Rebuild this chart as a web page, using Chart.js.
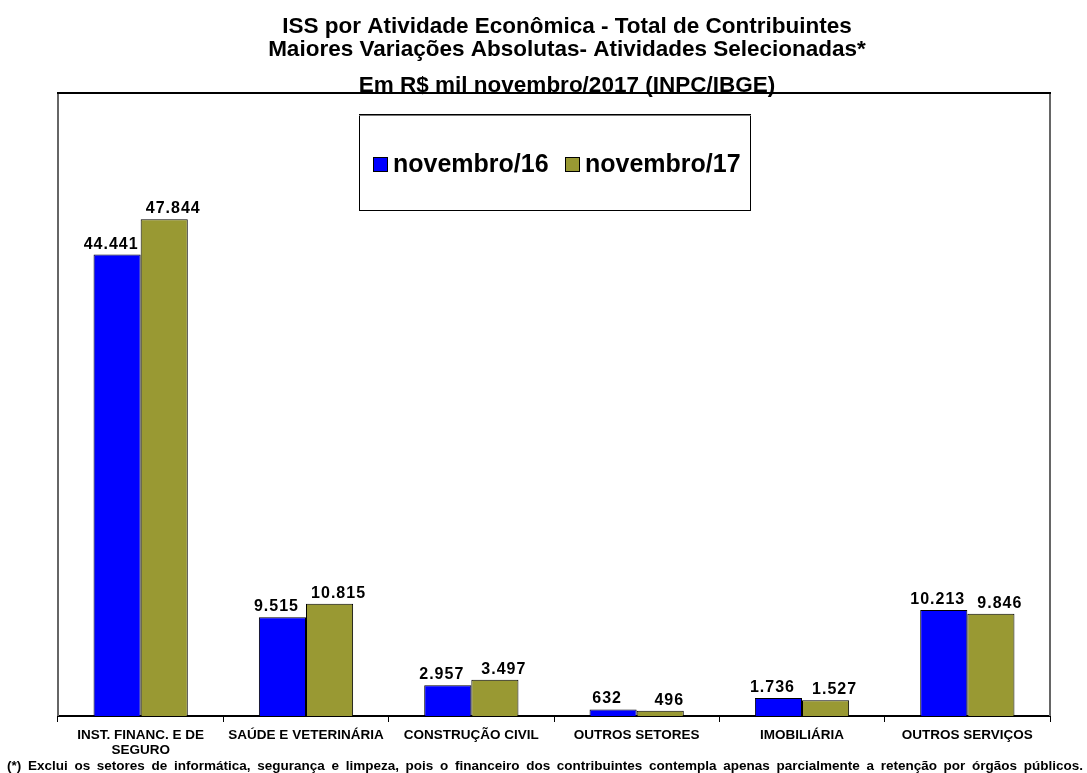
<!DOCTYPE html>
<html>
<head>
<meta charset="utf-8">
<script src="https://cdn.jsdelivr.net/npm/chart.js@4/dist/chart.umd.min.js"></script>
<style>
  body { margin: 0; background: #fff; }
  #wrap { width: 1087px; height: 773px; }
</style>
</head>
<body>
<div id="wrap"><canvas id="issChart" width="1087" height="773"></canvas></div>
<script>
const categories = [
    ['INST. FINANC. E DE', 'SEGURO'],
    'SAÚDE E VETERINÁRIA',
    'CONSTRUÇÃO CIVIL',
    'OUTROS SETORES',
    'IMOBILIÁRIA',
    'OUTROS SERVIÇOS'
];
const seriesNames = ['novembro/16', 'novembro/17'];
const nov16 = [44441, 9515, 2957, 632, 1736, 10213];
const nov17 = [47844, 10815, 3497, 496, 1527, 9846];
const seriesColors = ['#0000FF', '#999933'];

const titleLines = [
    'ISS por Atividade Econômica - Total de Contribuintes',
    'Maiores Variações Absolutas- Atividades Selecionadas*',
    'Em R$ mil novembro/2017 (INPC/IBGE)'
];
const footnote = '(*) Exclui os setores de informática, segurança e limpeza, pois o financeiro dos contribuintes contempla apenas parcialmente a retenção por órgãos públicos.';

const FONT = '"Liberation Sans", Arial, sans-serif';

function formatThousands(v) {
    return String(v).replace(/\B(?=(\d{3})+(?!\d))/g, '.');
}

// draws a line of words spread out to fill the given width
function drawJustified(ctx, text, left, right, y) {
    const words = text.split(' ');
    let total = 0;
    words.forEach(w => { total += ctx.measureText(w).width; });
    const gap = (right - left - total) / (words.length - 1);
    let x = left;
    words.forEach(w => {
        ctx.fillText(w, x, y);
        x += ctx.measureText(w).width + gap;
    });
}

const decorations = {
    id: 'decorations',
    beforeDraw(chart) {
        const ctx = chart.ctx;
        ctx.save();
        ctx.fillStyle = '#fff';
        ctx.fillRect(0, 0, chart.width, chart.height);
        ctx.restore();
    },
    afterDatasetsDraw(chart) {
        // value labels, nudged apart so neighbours don't collide
        const ctx = chart.ctx;
        ctx.save();
        ctx.font = 'bold 16px ' + FONT;
        ctx.letterSpacing = '1px';
        ctx.fillStyle = '#000';
        ctx.textAlign = 'center';
        ctx.textBaseline = 'alphabetic';
        chart.data.datasets.forEach((ds, di) => {
            const meta = chart.getDatasetMeta(di);
            const shift = di === 0 ? -6 : 9;
            meta.data.forEach((bar, i) => {
                ctx.fillText(formatThousands(ds.data[i]), bar.x + shift, bar.y - 6);
            });
        });
        ctx.restore();
    },
    afterDraw(chart) {
        const ctx = chart.ctx;
        const a = chart.chartArea;
        ctx.save();

        // plot frame
        ctx.strokeStyle = '#666';
        ctx.lineWidth = 2;
        ctx.beginPath();
        ctx.moveTo(a.left, a.bottom);
        ctx.lineTo(a.left, a.top);
        ctx.moveTo(a.right, a.top);
        ctx.lineTo(a.right, a.bottom);
        ctx.stroke();
        ctx.strokeStyle = '#000';
        ctx.beginPath();
        ctx.moveTo(a.left - 1, a.top);
        ctx.lineTo(a.right + 1, a.top);
        ctx.stroke();

        // title
        ctx.fillStyle = '#000';
        ctx.font = 'bold 22.5px ' + FONT;
        ctx.textAlign = 'center';
        ctx.textBaseline = 'alphabetic';
        const titleY = [33, 56, 92];
        titleLines.forEach((line, i) => ctx.fillText(line, 567, titleY[i]));

        // legend box
        ctx.fillStyle = '#fff';
        ctx.fillRect(359, 114, 391, 96);
        ctx.strokeStyle = '#000';
        ctx.lineWidth = 1;
        ctx.strokeRect(359.5, 114.5, 391, 96);
        ctx.strokeStyle = '#777';
        ctx.beginPath();
        ctx.moveTo(359, 115.5);
        ctx.lineTo(751, 115.5);
        ctx.stroke();

        ctx.font = 'bold 25px ' + FONT;
        ctx.textAlign = 'left';
        ctx.textBaseline = 'middle';
        const legendX = [373, 565];
        chart.data.datasets.forEach((ds, di) => {
            const x = legendX[di];
            ctx.fillStyle = ds.backgroundColor;
            ctx.fillRect(x, 157, 14, 14);
            ctx.strokeStyle = '#000';
            ctx.strokeRect(x + 0.5, 157.5, 14, 14);
            ctx.fillStyle = '#000';
            ctx.fillText(ds.label, x + 20, 165);
        });

        // footnote
        ctx.font = 'bold 13.5px ' + FONT;
        ctx.textBaseline = 'alphabetic';
        drawJustified(ctx, footnote, 7, 1083, 770);

        ctx.restore();
    }
};

new Chart(document.getElementById('issChart'), {
    type: 'bar',
    data: {
        labels: categories,
        datasets: [
            {
                label: seriesNames[0],
                data: nov16,
                backgroundColor: seriesColors[0],
                borderColor: '#000',
                borderWidth: 1,
                categoryPercentage: 0.57,
                barPercentage: 1
            },
            {
                label: seriesNames[1],
                data: nov17,
                backgroundColor: seriesColors[1],
                borderColor: '#000',
                borderWidth: 1,
                categoryPercentage: 0.57,
                barPercentage: 1
            }
        ]
    },
    options: {
        responsive: false,
        animation: false,
        devicePixelRatio: 1,
        layout: { padding: { left: 58, right: 37, top: 93, bottom: 0 } },
        plugins: {
            legend: { display: false },
            title: { display: false },
            tooltip: { enabled: false }
        },
        scales: {
            y: {
                display: false,
                min: 0,
                max: 60000
            },
            x: {
                border: { color: '#000', width: 2 },
                grid: {
                    display: true,
                    offset: true,
                    drawOnChartArea: false,
                    drawTicks: true,
                    tickLength: 6,
                    color: '#000',
                    lineWidth: 1
                },
                ticks: {
                    color: '#000',
                    padding: 6,
                    maxRotation: 0,
                    autoSkip: false,
                    font: { family: FONT, size: 13.5, weight: 'bold', lineHeight: 1.1 }
                },
                afterFit(scale) {
                    scale.height = 57;
                }
            }
        }
    },
    plugins: [decorations]
});
</script>
</body>
</html>
